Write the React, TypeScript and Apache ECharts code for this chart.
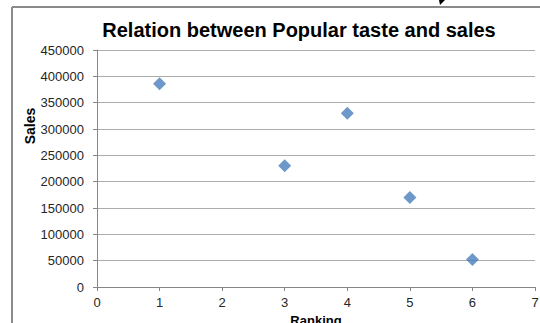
import React, { useEffect, useRef } from "react";
import * as echarts from "echarts";

const rankings = [1, 3, 4, 5, 6];
const sales = [386000, 230000, 330000, 170000, 52000];
const titleText = "Relation between Popular taste and sales";
const xName = "Ranking";
const yName = "Sales";

export default function App() {
  const ref = useRef<HTMLDivElement>(null);
  useEffect(() => {
    if (!ref.current) return;
    const chart = echarts.init(ref.current, null, { renderer: "svg" });
    const font = "'Liberation Sans', Arial, sans-serif";
    chart.setOption({
      animation: false,
      backgroundColor: "#ffffff",
      title: {
        text: titleText,
        left: 294,
        top: 15,
        textAlign: "center",
        textStyle: { fontFamily: font, fontWeight: "bold", fontSize: 20, color: "#000" },
      },
      grid: {
        left: 97,
        right: 5,
        top: 50,
        bottom: 36,
        containLabel: false,
        outerBoundsMode: "none",
      },
      xAxis: {
        type: "value",
        min: 0,
        max: 7,
        interval: 1,
        name: xName,
        nameLocation: "middle",
        nameGap: 26,
        nameTextStyle: { fontFamily: font, fontWeight: "bold", fontSize: 13, color: "#000" },
        axisLine: { show: true, onZero: false, lineStyle: { color: "#868686", width: 1 } },
        axisTick: { show: true, inside: false, length: 4, lineStyle: { color: "#868686" } },
        axisLabel: { fontFamily: font, fontSize: 13, color: "#262626", margin: 9 },
        splitLine: { show: false },
      },
      yAxis: {
        type: "value",
        min: 0,
        max: 450000,
        interval: 50000,
        axisLine: { show: true, lineStyle: { color: "#868686", width: 1 } },
        axisTick: { show: true, inside: false, length: 4, lineStyle: { color: "#868686" } },
        axisLabel: {
          fontFamily: font,
          fontSize: 13,
          color: "#262626",
          margin: 13,
          formatter: (v: number) => String(v),
        },
        splitLine: { show: true, lineStyle: { color: "#acacac", width: 1 } },
      },
      graphic: [
        {
          type: "line",
          shape: { x1: 12, y1: 7, x2: 540, y2: 7 },
          style: { stroke: "#8a8a8a", lineWidth: 2 },
        },
        {
          type: "line",
          shape: { x1: 12, y1: 7, x2: 12, y2: 323 },
          style: { stroke: "#8a8a8a", lineWidth: 2 },
        },
        {
          type: "polygon",
          shape: { points: [[439, 0], [445, 0], [440, 5]] },
          style: { fill: "#000" },
        },
        {
          type: "text",
          x: 30,
          y: 126,
          rotation: Math.PI / 2,
          style: {
            text: yName,
            fontFamily: font,
            fontWeight: "bold",
            fontSize: 14,
            fill: "#000",
            align: "center",
            verticalAlign: "middle",
          },
        },
      ],
      series: [
        {
          type: "scatter",
          data: rankings.map((r, i) => [r, sales[i]]),
          symbol: "diamond",
          symbolSize: 13,
          itemStyle: { color: "#4a7ebb" },
        },
      ],
    });
    return () => chart.dispose();
  }, []);
  return (
    <div
      ref={ref}
      style={{ position: "fixed", left: 0, top: 0, width: 540, height: 323 }}
    />
  );
}
